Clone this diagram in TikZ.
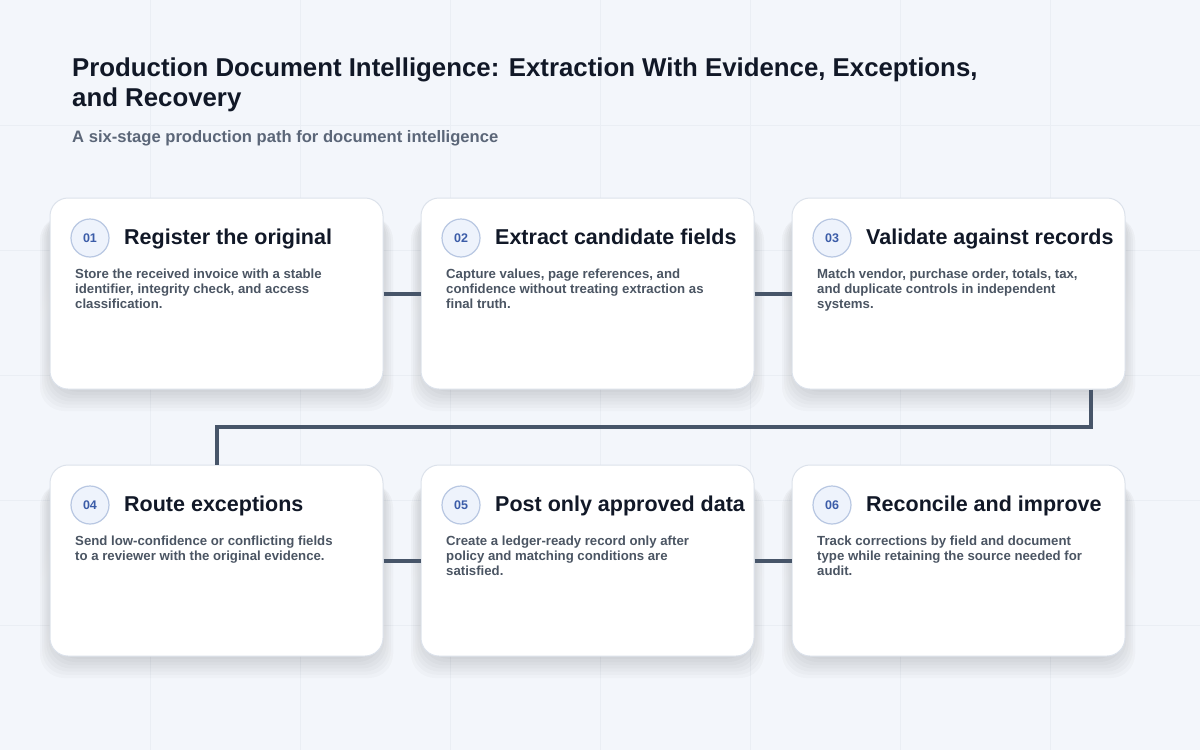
\documentclass[tikz,border=0pt]{standalone}
\usepackage{fontspec}
\setmainfont{Liberation Sans}
\usetikzlibrary{positioning}

\definecolor{bgpaper}{HTML}{F3F6FB}
\definecolor{gridline}{HTML}{EAEEF4}
\definecolor{cardedge}{HTML}{DCE2EB}
\definecolor{ink}{HTML}{111827}
\definecolor{bodyink}{HTML}{4B5563}
\definecolor{subink}{HTML}{5B6678}
\definecolor{numblue}{HTML}{3B5CA8}
\definecolor{numfill}{HTML}{EEF3FC}
\definecolor{numedge}{HTML}{B8C7E2}
\definecolor{linkink}{HTML}{475569}
\definecolor{shade}{HTML}{8A98B2}

\tikzset{
  card/.style={draw=cardedge, line width=1pt, fill=white, rounded corners=18pt,
    minimum width=333pt, minimum height=191pt, inner sep=0pt},
  badge/.style={circle, draw=numedge, line width=1.2pt, fill=numfill,
    minimum size=38pt, inner sep=0pt, text=numblue,
    font=\fontsize{12.5}{14}\selectfont\bfseries},
  cardtitle/.style={anchor=base west, inner sep=0pt, text=ink,
    font=\fontsize{21.5}{25}\selectfont\bfseries},
  cardbody/.style={anchor=north west, inner sep=0pt, align=left, text=bodyink,
    font=\fontsize{13.2}{15}\selectfont\bfseries},
  link/.style={draw=linkink, line width=4pt},
}

\begin{document}
\begin{tikzpicture}[x=1pt,y=-1pt]
\fill[bgpaper] (0,0) rectangle (1200,750);
\useasboundingbox (0,0) rectangle (1200,750);

% faint background grid
\foreach \gx in {150,300,...,1050} \draw[gridline] (\gx,0) -- (\gx,750);
\foreach \gy in {125,250,...,625} \draw[gridline] (0,\gy) -- (1200,\gy);

\node[anchor=north west, inner sep=0pt, align=left, text=ink,
  font=\fontsize{25.8}{30}\selectfont\bfseries] (title) at (72,57.5)
  {Production Document Intelligence: Extraction With Evidence, Exceptions,\\and Recovery};
\node[anchor=base west, inner sep=0pt, text=subink,
  font=\fontsize{16.6}{19}\selectfont\bfseries] (subtitle) at (72,142)
  {A six-stage production path for document intelligence};

\foreach \n/\x/\y/\head/\body in {
  01/50/198/{Register the original}/{Store the received invoice with a stable\\identifier, integrity check, and access\\classification.},
  02/421/198/{Extract candidate fields}/{Capture values, page references, and\\confidence without treating extraction as\\final truth.},
  03/792/198/{Validate against records}/{Match vendor, purchase order, totals, tax,\\and duplicate controls in independent\\systems.},
  04/50/465/{Route exceptions}/{Send low-confidence or conflicting fields\\to a reviewer with the original evidence.},
  05/421/465/{Post only approved data}/{Create a ledger-ready record only after\\policy and matching conditions are\\satisfied.},
  06/792/465/{Reconcile and improve}/{Track corrections by field and document\\type while retaining the source needed for\\audit.}}
{
  % soft shadow
  \foreach \s in {1,...,10}
    \fill[shade, opacity=0.018, rounded corners=24pt]
      (\x+12-2.2*\s,\y+10+0.8*\s) rectangle (\x+321+2.2*\s,\y+181+3.2*\s);
  \node[card] (card\n) at (\x+166.5,\y+95.5) {};
  \node[badge] (num\n) at (\x+40,\y+40) {\n};
  \node[cardtitle] (head\n) at (\x+74,\y+46) {\head};
  \node[cardbody] (body\n) at (\x+25,\y+70.5) {\body};
}

\coordinate (bend) at (1091,427);

\draw[link] (card01.east) -- (card02.west);
\draw[link] (card02.east) -- (card03.west);
\draw[link] (card03.south -| bend) -- (bend) -| (card04.north);
\draw[link] (card04.east) -- (card05.west);
\draw[link] (card05.east) -- (card06.west);
\end{tikzpicture}
\end{document}
